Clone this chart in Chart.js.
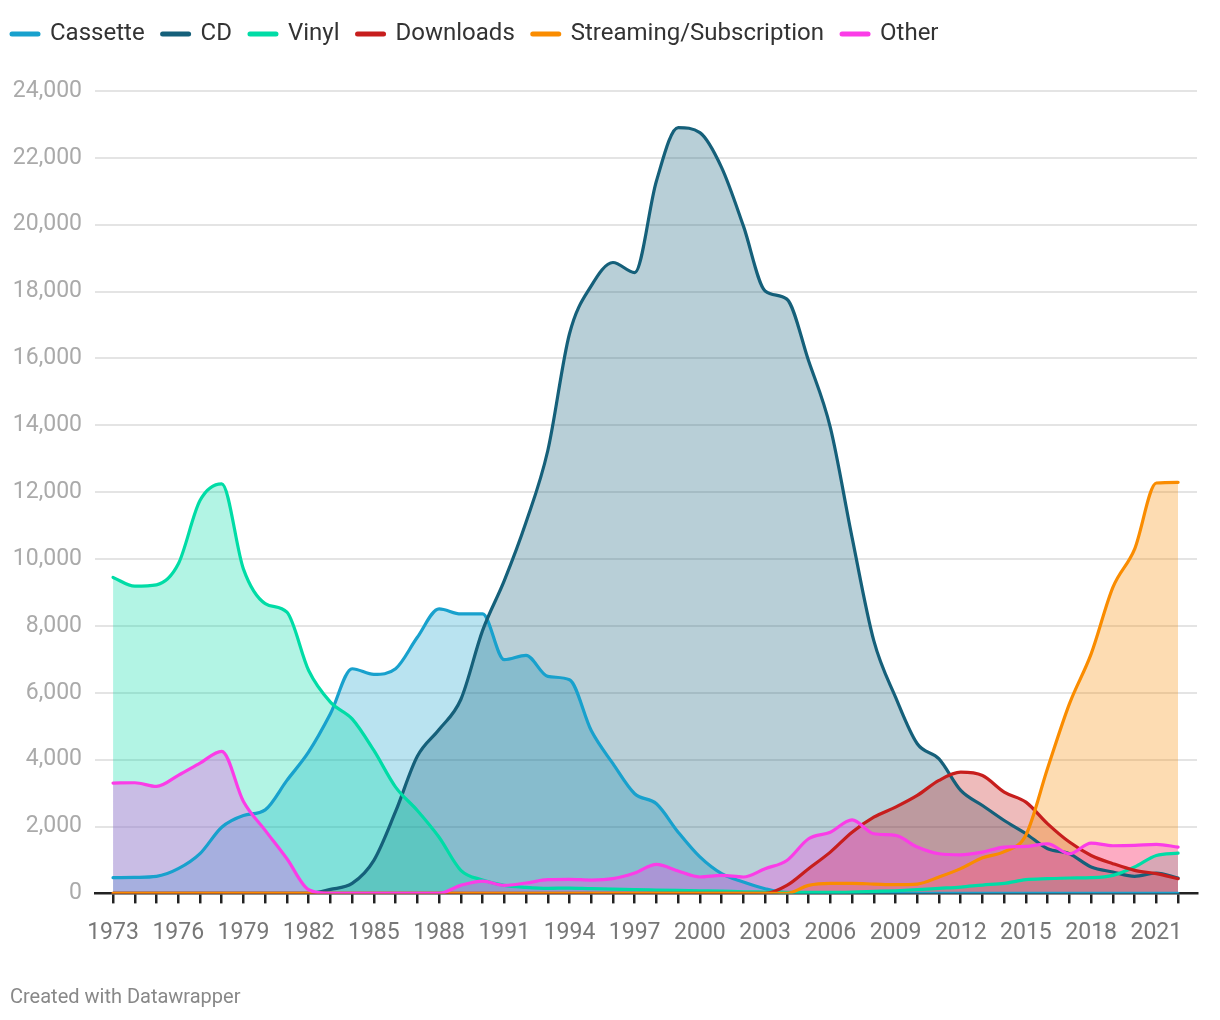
<!DOCTYPE html>
<html>
<head>
<meta charset="utf-8">
<script src="https://cdn.jsdelivr.net/npm/chart.js@4"></script>
<style>
  body { margin: 0; background: #fff; }
  #wrap { position: relative; width: 1220px; height: 1020px; }
  #credit { position: absolute; left: 10px; top: 984px; font: 20px Roboto, sans-serif; color: #888; }
</style>
</head>
<body>
<div id="wrap">
  <canvas id="myChart"></canvas>
  <div id="credit">Created with Datawrapper</div>
</div>
<script>
'use strict';

// US recorded music revenues by format, 1973-2022
var years = [];
for (var y = 1973; y <= 2022; y++) years.push(y);

var seriesNames = ['Cassette', 'CD', 'Vinyl', 'Downloads', 'Streaming/Subscription', 'Other'];
var seriesColors = ['#18a1cd', '#15607a', '#00dca6', '#c71e1d', '#fa8c00', '#fb3ce7'];

var cassette = [470, 480, 510, 740, 1190, 1980, 2330, 2500, 3380, 4230,
  5370, 6720, 6550, 6720, 7660, 8510, 8360, 8360, 6990, 7120,
  6490, 6390, 4870, 3880, 2980, 2680, 1830, 1090, 590, 340,
  140, 20, 10, 0, 0, 0, 0, 0, 0, 0,
  0, 0, 0, 0, 0, 0, 0, 0, 0, 0];
var cd = [0, 0, 0, 0, 0, 0, 0, 0, 0, 0,
  120, 300, 990, 2450, 4100, 4900, 5800, 7860, 9355, 11100,
  13240, 16740, 18170, 18870, 18570, 21310, 22905, 22755, 21710, 19965,
  18020, 17775, 15930, 13940, 10650, 7560, 5870, 4475, 4025, 3080,
  2630, 2180, 1785, 1335, 1185, 790, 640, 510, 610, 460];
var vinyl = [9450, 9190, 9230, 9850, 11750, 12250, 9700, 8670, 8410, 6665,
  5720, 5220, 4275, 3180, 2480, 1680, 690, 400, 240, 180,
  150, 160, 140, 130, 110, 100, 90, 80, 70, 50,
  40, 30, 30, 30, 40, 60, 80, 110, 150, 190,
  250, 300, 410, 440, 460, 470, 540, 790, 1135, 1205];
var downloads = [0, 0, 0, 0, 0, 0, 0, 0, 0, 0,
  0, 0, 0, 0, 0, 0, 0, 0, 0, 0,
  0, 0, 0, 0, 0, 0, 0, 0, 0, 0,
  0, 240, 740, 1235, 1830, 2280, 2580, 2930, 3380, 3625,
  3525, 3030, 2730, 2080, 1535, 1135, 890, 690, 590, 440];
var streaming = [0, 0, 0, 0, 0, 0, 0, 0, 0, 0,
  0, 0, 0, 0, 0, 0, 0, 0, 0, 0,
  0, 0, 0, 0, 0, 0, 0, 0, 0, 0,
  0, 0, 240, 300, 300, 280, 260, 280, 490, 740,
  1065, 1250, 1750, 3750, 5670, 7165, 9155, 10300, 12275, 12295];
var other = [3300, 3310, 3200, 3530, 3895, 4250, 2750, 1885, 1035, 110,
  0, 0, 0, 0, 0, 0, 240, 370, 240, 310,
  410, 420, 400, 440, 610, 870, 670, 490, 540, 490,
  740, 985, 1635, 1830, 2200, 1785, 1735, 1385, 1185, 1155,
  1235, 1385, 1405, 1485, 1185, 1505, 1425, 1435, 1465, 1385];

var yTicks = [0, 2000, 4000, 6000, 8000, 10000, 12000, 14000, 16000, 18000, 20000, 22000, 24000];

function hexToRgba(hex, a) {
  var n = parseInt(hex.slice(1), 16);
  return 'rgba(' + (n >> 16) + ',' + ((n >> 8) & 255) + ',' + (n & 255) + ',' + a + ')';
}

// push the plot down below the legend and nudge the legend to the left edge
var legendSpacing = {
  id: 'legendSpacing',
  beforeInit: function (chart) {
    var fit = chart.legend.fit;
    chart.legend.fit = function () {
      fit.bind(chart.legend)();
      this.height += 35;
    };
  },
  afterLayout: function (chart) {
    chart.legend.left = -6;
  }
};

function initChart() {
  var ctx = document.getElementById('myChart').getContext('2d');
  var values = [cassette, cd, vinyl, downloads, streaming, other];

  var datasets = seriesNames.map(function (name, i) {
    return {
      label: name,
      data: years.map(function (yr, j) { return {x: yr, y: values[i][j]}; }),
      order: seriesNames.length - i, // later series drawn on top
      borderColor: seriesColors[i],
      backgroundColor: hexToRgba(seriesColors[i], 0.3),
      borderWidth: 3.2,
      borderCapStyle: 'round',
      borderJoinStyle: 'round',
      fill: 'origin',
      pointRadius: 0,
      pointHoverRadius: 0,
      cubicInterpolationMode: 'monotone'
    };
  });

  new Chart(ctx, {
    type: 'line',
    data: {datasets: datasets},
    plugins: [legendSpacing],
    options: {
      responsive: true,
      maintainAspectRatio: false,
      animation: false,
      layout: {padding: {left: 0, right: 23, top: 4, bottom: 57}},
      plugins: {
        tooltip: {enabled: false},
        filler: {drawTime: 'beforeDatasetsDraw'}, // all areas under all lines
        legend: {
          position: 'top',
          align: 'start',
          labels: {
            usePointStyle: true,
            pointStyle: 'line',
            pointStyleWidth: 26,
            padding: 18,
            color: '#333',
            font: {family: 'Roboto', size: 24},
            sort: function (a, b) { return a.datasetIndex - b.datasetIndex; },
            generateLabels: function (chart) {
              var items = Chart.defaults.plugins.legend.labels.generateLabels(chart);
              items.forEach(function (it) {
                it.lineWidth = 5;
                it.lineCap = 'round';
                it.pointStyle = 'line';
              });
              return items;
            }
          }
        }
      },
      scales: {
        x: {
          type: 'linear',
          min: 1972.17,
          max: 2022.87,
          afterBuildTicks: function (scale) {
            scale.ticks = years.map(function (v) { return {value: v}; });
          },
          border: {display: true, color: '#222', width: 2.5},
          grid: {
            drawOnChartArea: false,
            drawTicks: true,
            tickLength: 10,
            tickColor: '#222',
            lineWidth: 2.5
          },
          ticks: {
            autoSkip: false,
            maxRotation: 0,
            padding: 16,
            color: '#777',
            font: {family: 'Roboto', size: 23},
            callback: function (v) { return (v - 1973) % 3 === 0 ? String(v) : ''; }
          }
        },
        y: {
          min: 0,
          max: 24000,
          afterBuildTicks: function (scale) {
            scale.ticks = yTicks.map(function (v) { return {value: v}; });
          },
          afterFit: function (scale) { scale.width = 95; },
          border: {display: false},
          grid: {color: '#e4e4e4', lineWidth: 2, drawTicks: false},
          ticks: {
            padding: 13,
            color: '#aaa',
            font: {family: 'Roboto', size: 23},
            callback: function (v) { return v.toLocaleString('en-US'); }
          }
        }
      }
    }
  });
}

initChart();
</script>
</body>
</html>
